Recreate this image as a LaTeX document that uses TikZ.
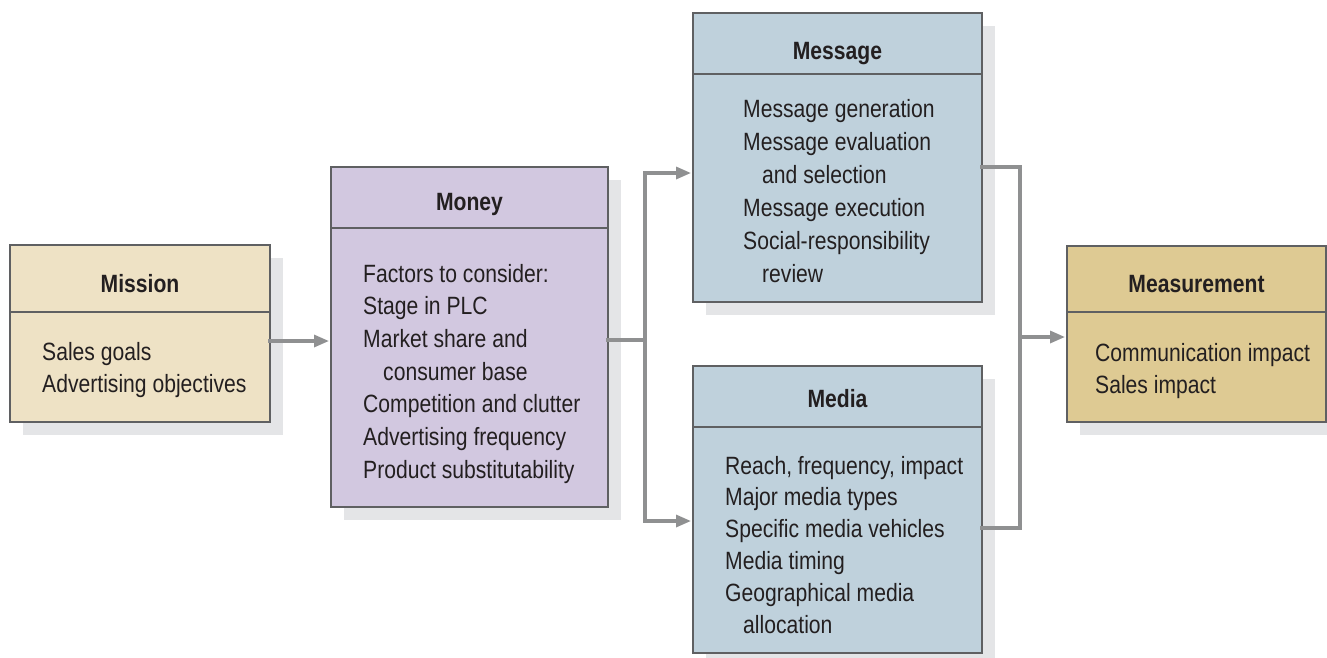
\documentclass[tikz,border=0pt]{standalone}
\usepackage{fontspec}
\setmainfont{Liberation Sans}[FakeStretch=0.845]
\usetikzlibrary{arrows.meta,calc,shadows}
\definecolor{missionfill}{HTML}{EEE2C5}
\definecolor{moneyfill}{HTML}{D2C8E0}
\definecolor{mfill}{HTML}{BFD1DC}
\definecolor{measfill}{HTML}{DECA93}
\definecolor{shadowgray}{HTML}{E4E5E7}
\definecolor{bordergray}{HTML}{5F6062}
\definecolor{conngray}{HTML}{8F9091}
\definecolor{textdark}{HTML}{231F20}
\newcommand{\bodyfont}[1]{\fontsize{25}{#1}\selectfont}
\begin{document}
\begin{tikzpicture}[x=1pt,y=-1pt,
  box/.style={draw=bordergray, line width=1.3pt, inner sep=0pt, outer sep=0pt, anchor=north west,
    drop shadow={shadow xshift=13pt, shadow yshift=-13pt, fill=shadowgray, opacity=1}},
  divider/.style={draw=bordergray, line width=1.3pt},
  boxtitle/.style={anchor=base, inner sep=0pt, text=textdark, font=\fontsize{25}{30}\selectfont\bfseries},
  boxbody/.style={anchor=base west, inner sep=0pt, text=textdark},
  conn/.style={draw=conngray, line width=3.2pt, line cap=rect, line join=miter},
  arr/.style={-{Triangle[length=15pt,width=12pt]}, shorten >=2pt}
]
\useasboundingbox (0,0) rectangle (1327,657);
\clip (0,0) rectangle (1327,657);

% Mission
\node[box, fill=missionfill, minimum width=260pt, minimum height=177pt] (mission) at (10,245) {};
\draw[divider] ($(mission.north west)+(0,67)$) -- ($(mission.north east)+(0,67)$);
\node[boxtitle] (missionT) at ($(mission.north)+(0,47)$) {Mission};
\node[boxbody] (missionB) at ($(mission.north west)+(32,115)$)
  {\bodyfont{32}\begin{tabular}[t]{@{}l@{}}Sales goals\\Advertising objectives\end{tabular}};

% Money
\node[box, fill=moneyfill, minimum width=277pt, minimum height=340pt] (money) at (331,167) {};
\draw[divider] ($(money.north west)+(0,61)$) -- ($(money.north east)+(0,61)$);
\node[boxtitle] (moneyT) at ($(money.north)+(0,43)$) {Money};
\node[boxbody] (moneyB) at ($(money.north west)+(32,115)$)
  {\bodyfont{32.7}\begin{tabular}[t]{@{}l@{}}Factors to consider:\\Stage in PLC\\Market share and\\\hspace*{20pt}consumer base\\Competition and clutter\\Advertising frequency\\Product substitutability\end{tabular}};

% Message
\node[box, fill=mfill, minimum width=289pt, minimum height=289pt] (message) at (693,13) {};
\draw[divider] ($(message.north west)+(0,61)$) -- ($(message.north east)+(0,61)$);
\node[boxtitle] (messageT) at ($(message.north)+(0,46)$) {Message};
\node[boxbody] (messageB) at ($(message.north west)+(50,104)$)
  {\bodyfont{33}\begin{tabular}[t]{@{}l@{}}Message generation\\Message evaluation\\\hspace*{19pt}and selection\\Message execution\\Social-responsibility\\\hspace*{19pt}review\end{tabular}};

% Media
\node[box, fill=mfill, minimum width=289pt, minimum height=287pt] (media) at (693,366) {};
\draw[divider] ($(media.north west)+(0,61)$) -- ($(media.north east)+(0,61)$);
\node[boxtitle] (mediaT) at ($(media.north)+(0,41)$) {Media};
\node[boxbody] (mediaB) at ($(media.north west)+(32,108)$)
  {\bodyfont{31.8}\begin{tabular}[t]{@{}l@{}}Reach, frequency, impact\\Major media types\\Specific media vehicles\\Media timing\\Geographical media\\\hspace*{18pt}allocation\end{tabular}};

% Measurement
\node[box, fill=measfill, minimum width=259pt, minimum height=176pt] (measurement) at (1067,246) {};
\draw[divider] ($(measurement.north west)+(0,66)$) -- ($(measurement.north east)+(0,66)$);
\node[boxtitle] (measurementT) at ($(measurement.north)+(0,46)$) {Measurement};
\node[boxbody] (measurementB) at ($(measurement.north west)+(28,115)$)
  {\bodyfont{32}\begin{tabular}[t]{@{}l@{}}Communication impact\\Sales impact\end{tabular}};

% connector junctions
\coordinate (inMoney) at (300,341);
\coordinate (sMid) at (645,340);
\coordinate (sTop) at (645,173);
\coordinate (sBot) at (645,521);
\coordinate (mTop) at (1020,167);
\coordinate (mBot) at (1020,528);
\coordinate (mMid) at (1020,337);

% connectors
\draw[conn, arr] (inMoney -| mission.east) -- (inMoney -| money.west);
\draw[conn] (sMid -| money.east) -- (sMid);
\draw[conn, arr] (sBot) -- (sTop) -- (sTop -| message.west);
\draw[conn, arr] (sBot) -- (sBot -| media.west);
\draw[conn] (mTop -| message.east) -- (mTop) -- (mBot) -- (mBot -| media.east);
\draw[conn, arr] (mMid) -- (mMid -| measurement.west);
\end{tikzpicture}
\end{document}
